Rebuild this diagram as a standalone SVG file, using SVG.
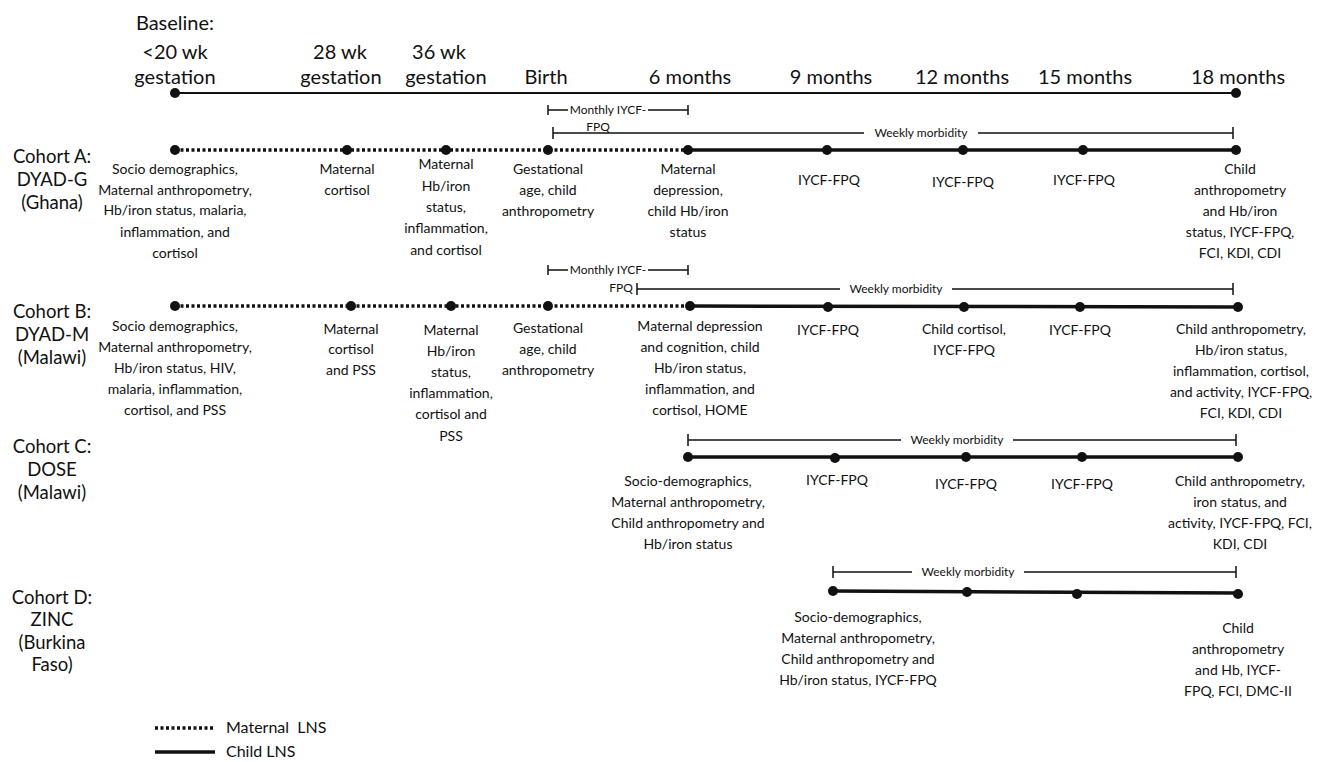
<svg xmlns="http://www.w3.org/2000/svg" width="1318" height="762" viewBox="0 0 1318 762">
<style>
text{font-family:Lato,"Liberation Sans",sans-serif;fill:#111;text-anchor:middle}
.h{font-size:20px}
.t{font-size:14px}
.c{font-size:18.5px}
.s{font-size:12px}
.l{font-size:16px;text-anchor:start;white-space:pre}
.ax{stroke:#111;stroke-width:2;fill:none}
.mat{stroke:#111;stroke-width:3.5;stroke-dasharray:3 2.5;fill:none}
.chd{stroke:#111;stroke-width:3.5;fill:none}
.rng{stroke:#111;stroke-width:1.5;fill:none}
.d{fill:#111}
</style>
<rect width="1318" height="762" fill="#fff"/>

<g id="header">
<text class="h" x="175" y="30">Baseline:</text>
<text class="h" x="175" y="59">&lt;20 wk</text>
<text class="h" x="175" y="84">gestation</text>
<text class="h" x="340" y="59">28 wk</text>
<text class="h" x="341" y="84">gestation</text>
<text class="h" x="439" y="59">36 wk</text>
<text class="h" x="446" y="84">gestation</text>
<text class="h" x="546" y="84">Birth</text>
<text class="h" x="690" y="84">6 months</text>
<text class="h" x="831" y="84">9 months</text>
<text class="h" x="962" y="84">12 months</text>
<text class="h" x="1085" y="84">15 months</text>
<text class="h" x="1238" y="84">18 months</text>
</g>

<g id="connectors">
<!-- top axis -->
<line class="ax" x1="175" y1="93" x2="1236" y2="93"/>
<!-- Cohort A -->
<path class="rng" d="M548,105V115M548,110H568M648,110H688M688,105V115"/>
<path class="rng" d="M553,127V139M553,133H864M978,133H1233M1233,127V139"/>
<line class="mat" x1="175" y1="150" x2="688" y2="150"/>
<line class="chd" x1="688" y1="150" x2="1236" y2="150"/>
<!-- Cohort B -->
<path class="rng" d="M548,265V275M548,270H568M648,270H688M688,265V275"/>
<path class="rng" d="M637,283V295M637,289H840M952,289H1233M1233,283V295"/>
<line class="mat" x1="175" y1="306" x2="690" y2="306"/>
<line class="chd" x1="690" y1="306" x2="1238" y2="307"/>
<!-- Cohort C -->
<path class="rng" d="M688,434V446M688,440H901M1013,440H1236M1236,434V446"/>
<line class="chd" x1="688" y1="457" x2="1238" y2="457"/>
<!-- Cohort D -->
<path class="rng" d="M833,566V578M833,572H912M1024,572H1236M1236,566V578"/>
<line class="chd" x1="833" y1="591" x2="1238" y2="593"/>
<!-- legend -->
<line class="mat" x1="155" y1="728" x2="215" y2="728"/>
<line class="chd" x1="155" y1="752" x2="215" y2="752"/>
</g>

<g id="range-labels">
<text class="s" x="608" y="114">Monthly IYCF-</text>
<text class="s" x="598" y="131">FPQ</text>
<text class="s" x="921" y="137">Weekly morbidity</text>
<text class="s" x="608" y="274">Monthly IYCF-</text>
<text class="s" x="621" y="292">FPQ</text>
<text class="s" x="896" y="293">Weekly morbidity</text>
<text class="s" x="957" y="444">Weekly morbidity</text>
<text class="s" x="968" y="576">Weekly morbidity</text>
</g>

<g id="axis-dots">
<circle class="d" cx="175" cy="93" r="5"/>
<circle class="d" cx="1236" cy="93" r="5"/>
</g>

<g id="cohortA">
<text class="c" x="52" y="163">Cohort A:</text>
<text class="c" x="52" y="186">DYAD-G</text>
<text class="c" x="52" y="209">(Ghana)</text>
<g class="d">
<circle cx="175" cy="150" r="5"/><circle cx="347" cy="150" r="5"/><circle cx="446" cy="150" r="5"/><circle cx="548" cy="150" r="5"/><circle cx="688" cy="150" r="5"/><circle cx="827" cy="150" r="5"/><circle cx="963" cy="150" r="5"/><circle cx="1083" cy="150" r="5"/><circle cx="1236" cy="150" r="5"/>
</g>
<g id="A-base"><text class="t" x="175" y="174">Socio demographics,</text><text class="t" x="175" y="195">Maternal anthropometry,</text><text class="t" x="175" y="215">Hb/iron status, malaria,</text><text class="t" x="175" y="237">inflammation, and</text><text class="t" x="175" y="258">cortisol</text></g>
<g id="A-28"><text class="t" x="347" y="174">Maternal</text><text class="t" x="347" y="195">cortisol</text></g>
<g id="A-36"><text class="t" x="446" y="169">Maternal</text><text class="t" x="446" y="191">Hb/iron</text><text class="t" x="446" y="212">status,</text><text class="t" x="446" y="233">inflammation,</text><text class="t" x="446" y="255">and cortisol</text></g>
<g id="A-birth"><text class="t" x="548" y="174">Gestational</text><text class="t" x="548" y="195">age, child</text><text class="t" x="548" y="216">anthropometry</text></g>
<g id="A-6"><text class="t" x="688" y="174">Maternal</text><text class="t" x="688" y="195">depression,</text><text class="t" x="688" y="216">child Hb/iron</text><text class="t" x="688" y="237">status</text></g>
<g id="A-9"><text class="t" x="829" y="185">IYCF-FPQ</text></g>
<g id="A-12"><text class="t" x="963" y="187">IYCF-FPQ</text></g>
<g id="A-15"><text class="t" x="1084" y="185">IYCF-FPQ</text></g>
<g id="A-18"><text class="t" x="1240" y="174">Child</text><text class="t" x="1240" y="195">anthropometry</text><text class="t" x="1240" y="216">and Hb/iron</text><text class="t" x="1240" y="237">status, IYCF-FPQ,</text><text class="t" x="1240" y="258">FCI, KDI, CDI</text></g>
</g>

<g id="cohortB">
<text class="c" x="52" y="318">Cohort B:</text>
<text class="c" x="52" y="341">DYAD-M</text>
<text class="c" x="52" y="364">(Malawi)</text>
<g class="d">
<circle cx="175" cy="306" r="5"/><circle cx="351" cy="306" r="5"/><circle cx="451" cy="306" r="5"/><circle cx="548" cy="306" r="5"/><circle cx="690" cy="306" r="5"/><circle cx="828" cy="307" r="5"/><circle cx="964" cy="307" r="5"/><circle cx="1080" cy="307" r="5"/><circle cx="1238" cy="307" r="5"/>
</g>
<g id="B-base"><text class="t" x="175" y="331">Socio demographics,</text><text class="t" x="175" y="352">Maternal anthropometry,</text><text class="t" x="175" y="373">Hb/iron status, HIV,</text><text class="t" x="175" y="394">malaria, inflammation,</text><text class="t" x="175" y="415">cortisol, and PSS</text></g>
<g id="B-28"><text class="t" x="351" y="334">Maternal</text><text class="t" x="351" y="354">cortisol</text><text class="t" x="351" y="375">and PSS</text></g>
<g id="B-36"><text class="t" x="451" y="335">Maternal</text><text class="t" x="451" y="356">Hb/iron</text><text class="t" x="451" y="377">status,</text><text class="t" x="451" y="398">inflammation,</text><text class="t" x="451" y="419">cortisol and</text><text class="t" x="451" y="441">PSS</text></g>
<g id="B-birth"><text class="t" x="548" y="333">Gestational</text><text class="t" x="548" y="354">age, child</text><text class="t" x="548" y="375">anthropometry</text></g>
<g id="B-6"><text class="t" x="700" y="331">Maternal depression</text><text class="t" x="700" y="352">and cognition, child</text><text class="t" x="700" y="373">Hb/iron status,</text><text class="t" x="700" y="394">inflammation, and</text><text class="t" x="700" y="415">cortisol, HOME</text></g>
<g id="B-9"><text class="t" x="828" y="335">IYCF-FPQ</text></g>
<g id="B-12"><text class="t" x="964" y="334">Child cortisol,</text><text class="t" x="964" y="355">IYCF-FPQ</text></g>
<g id="B-15"><text class="t" x="1080" y="335">IYCF-FPQ</text></g>
<g id="B-18"><text class="t" x="1241" y="334">Child anthropometry,</text><text class="t" x="1241" y="355">Hb/iron status,</text><text class="t" x="1241" y="376">inflammation, cortisol,</text><text class="t" x="1241" y="397">and activity, IYCF-FPQ,</text><text class="t" x="1241" y="418">FCI, KDI, CDI</text></g>
</g>

<g id="cohortC">
<text class="c" x="52" y="453">Cohort C:</text>
<text class="c" x="52" y="476">DOSE</text>
<text class="c" x="52" y="499">(Malawi)</text>
<g class="d">
<circle cx="688" cy="457" r="5"/><circle cx="835" cy="458" r="5"/><circle cx="966" cy="457" r="5"/><circle cx="1082" cy="457" r="5"/><circle cx="1238" cy="457" r="5"/>
</g>
<g id="C-6"><text class="t" x="688" y="486">Socio-demographics,</text><text class="t" x="688" y="507">Maternal anthropometry,</text><text class="t" x="688" y="528">Child anthropometry and</text><text class="t" x="688" y="549">Hb/iron status</text></g>
<g id="C-9"><text class="t" x="837" y="485">IYCF-FPQ</text></g>
<g id="C-12"><text class="t" x="966" y="489">IYCF-FPQ</text></g>
<g id="C-15"><text class="t" x="1082" y="489">IYCF-FPQ</text></g>
<g id="C-18"><text class="t" x="1240" y="486">Child anthropometry,</text><text class="t" x="1240" y="507">iron status, and</text><text class="t" x="1240" y="528">activity, IYCF-FPQ, FCI,</text><text class="t" x="1240" y="549">KDI, CDI</text></g>
</g>

<g id="cohortD">
<text class="c" x="52" y="604">Cohort D:</text>
<text class="c" x="52" y="626">ZINC</text>
<text class="c" x="52" y="649">(Burkina</text>
<text class="c" x="52" y="671">Faso)</text>
<g class="d">
<circle cx="833" cy="591" r="5"/><circle cx="967" cy="592" r="5"/><circle cx="1077" cy="594" r="5"/><circle cx="1238" cy="594" r="5"/>
</g>
<g id="D-9"><text class="t" x="858" y="622">Socio-demographics,</text><text class="t" x="858" y="643">Maternal anthropometry,</text><text class="t" x="858" y="664">Child anthropometry and</text><text class="t" x="858" y="685">Hb/iron status, IYCF-FPQ</text></g>
<g id="D-18"><text class="t" x="1238" y="633">Child</text><text class="t" x="1238" y="654">anthropometry</text><text class="t" x="1238" y="675">and Hb, IYCF-</text><text class="t" x="1238" y="696">FPQ, FCI, DMC-II</text></g>
</g>

<g id="legend">
<text class="l" x="226" y="733">Maternal  LNS</text>
<text class="l" x="226" y="757">Child LNS</text>
</g>
</svg>
